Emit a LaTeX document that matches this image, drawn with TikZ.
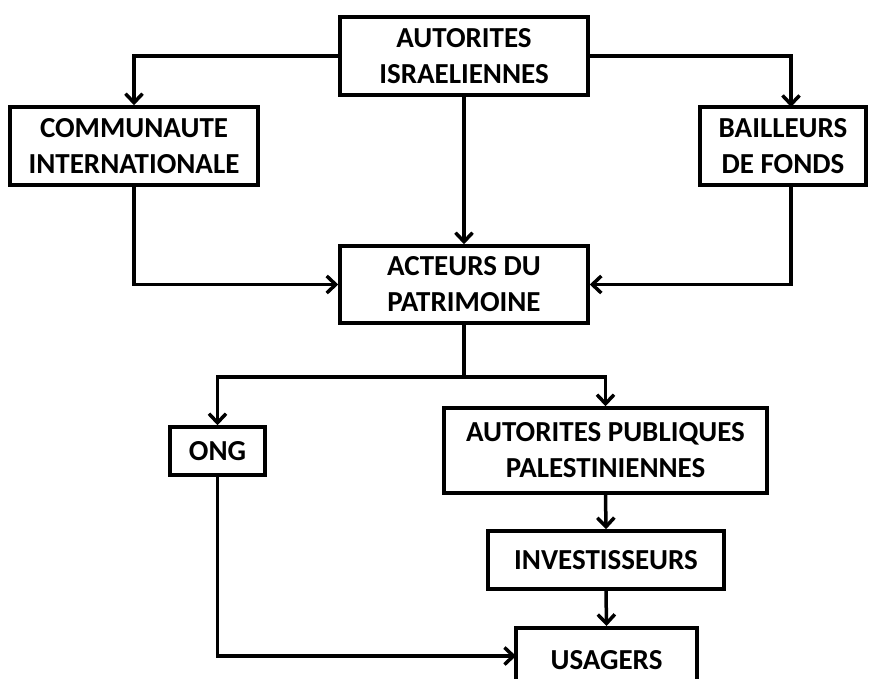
\documentclass[tikz,border=0pt]{standalone}
\usepackage{fontspec}
\setmainfont{Carlito}
\usetikzlibrary{arrows.meta}
\begin{document}
\begin{tikzpicture}[x=1pt,y=-1pt,
  box/.style={draw=black,line width=3.5pt,inner sep=0pt,align=center,
    font=\fontsize{29}{36}\selectfont\bfseries},
  arr/.style={line width=3.5pt,-{Straight Barb[length=9pt,width=17pt]}},
  ln/.style={line width=3.5pt}]
\useasboundingbox (0,0) rectangle (869,678);
\node[box,minimum width=248pt,minimum height=78pt] (ai) at (464,56) {AUTORITES\\ISRAELIENNES};
\node[box,minimum width=248pt,minimum height=78pt] (ci) at (134,146) {COMMUNAUTE\\INTERNATIONALE};
\node[box,minimum width=166pt,minimum height=78pt] (bf) at (783,146) {BAILLEURS\\DE FONDS};
\node[box,minimum width=248pt,minimum height=77pt] (ac) at (464,284.5) {ACTEURS DU\\PATRIMOINE};
\node[box,minimum width=95pt,minimum height=48pt] (ong) at (217.5,451) {ONG};
\node[box,minimum width=323pt,minimum height=85pt] (ap) at (605.5,450.5) {AUTORITES PUBLIQUES\\PALESTINIENNES};
\node[box,minimum width=236pt,minimum height=58pt] (inv) at (606,560) {INVESTISSEURS};
\node[box,minimum width=181pt,minimum height=64pt,anchor=north] (us) at (606.5,626) {USAGERS};
\coordinate (bftop) at (791,107);
\coordinate (bfbot) at (791,185);
\coordinate (split) at (464,377);
\coordinate (usin) at (516,656);
% top branches
\draw[arr] (ai.west) -| (ci.north);
\draw[arr] (ai.east) -| (bftop);
\draw[arr] (ai.south) -- (ac.north);
\draw[arr] (ci.south) |- (ac.west);
\draw[arr] (bfbot) |- (ac.east);
% lower branches
\draw[ln] (ac.south) -- (split);
\draw[arr] (split) -| (ong.north);
\draw[arr] (split) -| (ap.north);
\draw[arr] (ap.south) -- (inv.north);
\draw[arr] (inv.south) -- (us.north);
\draw[arr] (ong.south) |- (usin);
\end{tikzpicture}
\end{document}
